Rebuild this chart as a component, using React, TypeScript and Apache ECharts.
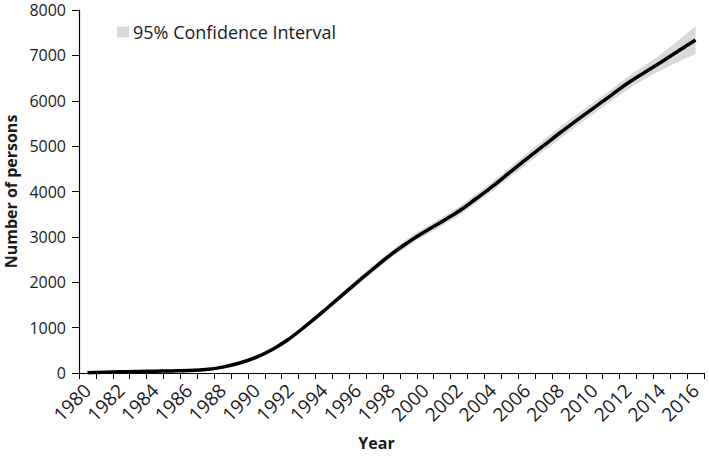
import React, { useEffect, useRef } from "react";
import * as echarts from "echarts";

const years: string[] = [
  "1980","1981","1982","1983","1984","1985","1986","1987","1988","1989",
  "1990","1991","1992","1993","1994","1995","1996","1997","1998","1999",
  "2000","2001","2002","2003","2004","2005","2006","2007","2008","2009",
  "2010","2011","2012","2013","2014","2015","2016",
];

const estimate: number[] = [
  5, 15, 25, 35, 40, 45, 55, 75, 130, 220,
  350, 530, 770, 1060, 1370, 1690, 2010, 2320, 2620, 2885,
  3120, 3340, 3570, 3840, 4120, 4420, 4720, 5010, 5300, 5580,
  5850, 6120, 6390, 6630, 6860, 7100, 7340,
];

const ciLower: number[] = [
  0, 10, 20, 30, 35, 40, 50, 66, 118, 205,
  328, 500, 735, 1015, 1315, 1630, 1940, 2245, 2540, 2800,
  3030, 3245, 3470, 3740, 4020, 4310, 4600, 4885, 5170, 5450,
  5720, 5990, 6250, 6480, 6680, 6860, 7030,
];

const ciUpper: number[] = [
  10, 20, 30, 40, 45, 50, 60, 84, 142, 235,
  372, 560, 805, 1105, 1425, 1750, 2080, 2395, 2700, 2970,
  3210, 3435, 3670, 3940, 4220, 4530, 4840, 5135, 5430, 5710,
  5980, 6250, 6530, 6780, 7040, 7340, 7650,
];

const yTicks: number[] = [0, 1000, 2000, 3000, 4000, 5000, 6000, 7000, 8000];

const FONT = "'Open Sans', 'Liberation Sans', sans-serif";
const TEXT = "#1a1a1a";

export default function App() {
  const ref = useRef<HTMLDivElement>(null);
  useEffect(() => {
    if (!ref.current) return;
    const chart = echarts.init(ref.current, undefined, { renderer: "svg" });
    const diff = ciUpper.map((u, i) => u - ciLower[i]);
    chart.setOption({
      animation: false,
      backgroundColor: "#ffffff",
      textStyle: { fontFamily: FONT },
      grid: {
        left: 79,
        right: 5,
        top: 10,
        bottom: 83,
        containLabel: false,
        outerBoundsMode: "none",
      },
      legend: {
        data: ["95% Confidence Interval"],
        left: 112,
        top: 18,
        icon: "rect",
        itemWidth: 12,
        itemHeight: 11,
        itemGap: 4,
        textStyle: { fontFamily: FONT, fontSize: 18, color: TEXT, padding: [0, 0, 0, -1] },
      },
      xAxis: {
        type: "category",
        data: years,
        boundaryGap: true,
        name: "Year",
        nameLocation: "middle",
        nameGap: 62,
        nameTextStyle: {
          fontFamily: FONT,
          fontSize: 16,
          fontWeight: "bold",
          color: TEXT,
          padding: [0, 30, 0, 0],
        },
        axisLine: { lineStyle: { color: "#000", width: 1.2 } },
        axisTick: { show: true, interval: 0, length: 6, lineStyle: { color: "#000" } },
        axisLabel: {
          interval: 1,
          rotate: 45,
          fontFamily: FONT,
          fontSize: 19,
          color: TEXT,
          margin: 14,
        },
        splitLine: { show: false },
      },
      yAxis: {
        type: "value",
        min: yTicks[0],
        max: yTicks[yTicks.length - 1],
        interval: 1000,
        name: "Number of persons",
        nameLocation: "middle",
        nameRotate: 90,
        nameGap: 60,
        nameTextStyle: { fontFamily: FONT, fontSize: 16, fontWeight: "bold", color: TEXT },
        axisLine: { show: true, lineStyle: { color: "#000", width: 1.2 } },
        axisTick: { show: true, length: 7, lineStyle: { color: "#000" } },
        axisLabel: {
          fontFamily: FONT,
          fontSize: 16,
          lineHeight: 14,
          color: TEXT,
          margin: 13,
          formatter: (v: number) => String(v),
        },
        splitLine: { show: false },
      },
      series: [
        {
          name: "lower",
          type: "line",
          stack: "ci",
          data: ciLower,
          smooth: true,
          symbol: "none",
          lineStyle: { opacity: 0 },
          itemStyle: { color: "transparent" },
          silent: true,
        },
        {
          name: "95% Confidence Interval",
          type: "line",
          stack: "ci",
          data: diff,
          smooth: true,
          symbol: "none",
          lineStyle: { opacity: 0 },
          itemStyle: { color: "#d9d9d9" },
          areaStyle: { color: "#d9d9d9", opacity: 1 },
          silent: true,
        },
        {
          name: "Estimate",
          type: "line",
          data: estimate,
          smooth: true,
          symbol: "none",
          lineStyle: { color: "#000", width: 3.5 },
          itemStyle: { color: "#000" },
          z: 5,
        },
      ],
    });
    return () => chart.dispose();
  }, []);
  return <div ref={ref} style={{ width: 709, height: 456, position: "absolute", left: 0, top: 0 }} />;
}
